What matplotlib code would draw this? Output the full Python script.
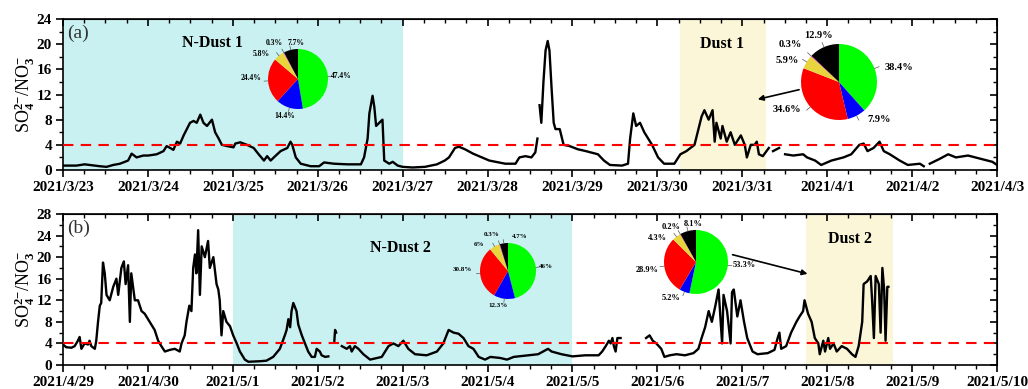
import numpy as np
import matplotlib
matplotlib.use("Agg")
import matplotlib.pyplot as plt
import matplotlib.dates as mdates
from matplotlib.ticker import MultipleLocator, FuncFormatter, NullFormatter
from datetime import datetime, timedelta

plt.rcParams['font.family'] = ['Liberation Serif', 'DejaVu Serif']
plt.rcParams['font.weight'] = 'bold'
plt.rcParams['mathtext.fontset'] = 'custom'
plt.rcParams['mathtext.rm'] = 'Liberation Serif:bold'
plt.rcParams['mathtext.it'] = 'Liberation Serif:bold'
plt.rcParams['mathtext.bf'] = 'Liberation Serif:bold'

# ---- data (hours from panel start, SO4/NO3 ratio; nan = gap) ----
start_a = datetime(2021, 3, 23)
start_b = datetime(2021, 4, 29)

hours_a = [0, 3.8, 6.1, 10.4, 12.3, 14.2, 16.1, 18.4, 19.4, 20.8,
           22.7, 24.1, 26.5, 28.4, 29.3, 30.3, 31.2, 32.2, 33.1, 34.1,
           35.0, 35.9, 36.9, 37.8, 38.8, 39.7, 40.7, 42.1, 43.0, 44.0,
           44.9, 46.4, 48.2, 48.7, 50.1, 52.0, 53.9, 55.3, 56.8, 57.7,
           58.7, 59.6, 61.5, 63.4, 64.3, 64.8, 65.8, 67.2, 70.0, 72.4,
           73.8, 76.6, 80.4, 84.2, 85.1, 86.1, 86.6, 87.5, 88.0, 88.5,
           89.4, 90.3, 90.8, 92.2, 93.2, 94.6, 96.0,
           98.8, 102.3, 105.7, 107.9, 109.1, 110.8, 111.9, 113.6, 115.9, 120.5,
           125.0, 127.9, 129.0, 130.7, 132.4, 133.5, 134.1, 134.4, 134.7, 135.2,
           135.8, 136.4, 137.0, 137.5, 138.1, 138.7, 139.2, 140.4, 141.5, 143.2,
           145.5, 147.8, 151.2, 152.9, 154.6, 158.0, 159.7, 160.3, 161.2, 162.0,
           163.1, 164.3, 165.4, 166.5, 168.2, 169.9, 172.8, 174.5, 176.2, 178.5,
           179.6, 180.5, 181.3, 182.5, 183.6, 184.2, 184.7, 185.9, 186.4, 187.6,
           188.7, 189.9, 191.6, 192.7, 193.3, 194.4, 195.5, 196.1, 196.7, 197.8,
           199.5, 200.1, 200.7, 202.4, 203.3, 204.1, 206.4, 209.2, 210.3, 212.6,
           214.3, 217.2, 220.6, 222.8, 225.1, 226.3, 227.4, 229.1, 230.8, 232.0,
           233.7, 236.5, 238.8, 242.2, 243.3, 244.1, 245.0, 247.9, 250.2, 252.4,
           255.8, 259.3, 262.7, 264.0]
ratio_a = [0.7, 0.7, 0.9, 0.6, 0.5, 0.8, 1.0, 1.5, 2.6, 2.0,
           2.3, 2.3, 2.5, 3.0, 3.8, 3.5, 3.2, 4.5, 4.2, 5.5,
           6.5, 7.5, 7.8, 7.5, 8.8, 7.5, 7.0, 8.0, 6.0, 5.0,
           4.0, 3.8, 3.6, 4.2, 4.4, 4.0, 3.5, 2.5, 1.5, 2.2,
           1.5, 2.0, 3.0, 3.5, 4.5, 4.0, 2.0, 1.0, 0.6, 0.6,
           1.2, 1.0, 0.9, 0.9, 2.0, 5.0, 9.0, 11.8, 10.0, 7.0,
           7.5, 8.0, 1.5, 1.0, 1.3, 0.7, 0.5,
           0.4, 0.5, 0.9, 1.5, 2.0, 3.5, 3.7, 3.3, 2.6, 1.5,
           1.0, 1.0, 2.0, 2.2, 2.0, 2.8, 5.0, np.nan, 10.3, 7.5,
           14.0, 19.0, 20.5, 19.0, 13.0, 7.5, 6.5, 6.5, 4.0, 3.8,
           3.3, 3.0, 2.5, 1.5, 0.8, 0.7, 1.0, 5.0, 9.0, 7.0,
           7.5, 6.0, 5.0, 4.0, 2.0, 1.0, 1.0, 2.5, 3.0, 4.0,
           6.5, 8.5, 9.5, 8.0, 9.5, 4.5, 7.5, 5.0, 7.0, 4.5,
           6.0, 4.0, 5.5, 4.0, 2.0, 4.0, 4.0, 4.5, 2.5, 2.2,
           3.5, np.nan, 3.0, 3.5, np.nan, 2.5, 2.3, 2.5, 2.0, 1.5,
           0.8, 1.5, 2.0, 2.5, 4.0, 4.2, 3.0, 3.5, 4.5, 3.0,
           2.5, 1.5, 0.8, 1.0, 0.6, np.nan, 1.0, 1.8, 2.5, 2.0,
           2.3, 1.8, 1.3, 0.8]

hours_b = [0, 0.9, 2.4, 3.3, 4.2, 4.7, 5.2, 6.1, 7.1, 7.5,
           8.0, 9.0, 9.4, 9.9, 10.4, 10.8, 11.3, 11.8, 12.3, 13.2,
           14.2, 15.1, 15.6, 16.5, 17.2, 17.7, 18.4, 18.9, 19.3, 20.3,
           21.2, 22.2, 23.1, 24.5, 25.9, 26.9, 27.8, 28.8, 30.2, 31.6,
           33.0, 33.5, 34.4, 34.9, 35.7, 36.3, 36.8, 37.3, 37.7, 38.2,
           38.7, 39.2, 40.1, 41.0, 41.5, 42.5, 43.4, 43.9, 44.3, 44.8,
           45.3, 46.2, 47.2, 48.1, 49.1, 50.0, 51.4, 52.4, 55.7, 57.5,
           59.4, 61.3, 62.7, 63.2, 63.7, 64.2, 64.6, 65.1, 66.0, 66.5,
           67.5, 68.4, 69.3, 70.3, 71.2, 71.7, 72.6, 73.1, 74.1, 75.0,
           76.0, 76.7, 76.9, 77.2, 78.0, 78.8, 80.2, 81.1, 81.6, 82.5,
           83.5, 84.9, 86.8, 88.7, 90.1, 92.0, 93.4, 94.8, 96.2, 97.6,
           99.5, 102.8, 105.7, 107.5, 109.0, 110.4, 111.8, 113.2, 114.6, 116.0,
           117.5, 119.3, 120.8, 123.6, 125.5, 127.4,
           131.4, 134.3, 137.1, 138.1, 140.9, 144.0, 147.6, 151.4, 152.4, 153.4,
           154.3, 154.8, 155.3, 155.7, 156.2, 156.7, 157.6, 160.0, 164.8, 165.8,
           166.7, 167.7, 169.1, 170.0, 171.5, 173.4, 175.8, 178.2, 179.6, 180.5,
           181.5, 182.5, 183.4, 184.4, 185.3, 186.3, 186.7, 187.7, 188.7, 189.1,
           189.6, 190.6, 191.5, 192.5, 193.4, 194.9, 196.3, 199.2, 201.1, 202.0,
           202.5, 203.0, 204.4, 205.8, 207.3, 208.2, 209.2, 209.6, 210.6, 211.6,
           212.5, 213.5, 213.9, 214.9, 215.4, 216.3, 216.8, 217.8, 218.7, 220.1,
           221.6, 223.0, 224.0, 224.9, 225.9, 226.3, 227.3, 228.3, 228.7, 229.2,
           229.7, 230.6, 231.1, 231.6, 232.1, 232.5, 233.0, 233.3]
ratio_b = [3.8, 3.3, 3.2, 3.5, 4.5, 5.2, 3.0, 4.0, 3.8, 4.5,
           3.5, 3.0, 4.5, 8.0, 11.0, 11.5, 19.0, 17.0, 13.0, 12.0,
           14.5, 16.0, 13.0, 18.0, 19.2, 15.0, 18.5, 8.0, 17.0, 12.0,
           12.0, 10.0, 9.5, 8.0, 6.5, 4.5, 3.5, 2.5, 2.8, 3.0,
           2.5, 4.0, 5.5, 8.0, 11.0, 10.0, 18.0, 20.5, 17.0, 25.0,
           13.0, 22.0, 20.0, 23.0, 18.0, 20.0, 15.0, 14.0, 12.0, 5.5,
           10.0, 8.0, 7.2, 5.5, 4.0, 2.5, 1.0, 0.6, 0.7, 0.8,
           1.5, 3.0, 5.5, 6.5, 8.5, 7.0, 10.0, 11.5, 10.0, 7.5,
           5.5, 4.0, 2.5, 1.5, 1.5, 3.0, 2.5, 1.8, 1.5, 1.6,
           np.nan, 4.5, 6.5, 6.0, np.nan, 3.5, 3.0, 3.5, 2.5, 3.5,
           3.0, 2.0, 1.0, 1.3, 1.5, 3.5, 4.0, 3.5, 4.5, 3.0,
           2.0, 1.8, 2.5, 4.0, 6.5, 6.0, 5.8, 5.0, 3.5, 3.0,
           1.5, 1.0, 1.5, 1.3, 1.0, 1.5,
           1.8, 2.0, 3.0, 2.5, 2.0, 1.6, 1.8, 1.8, 2.5, 3.5,
           4.5, 4.0, 5.0, 3.5, 2.5, 5.0, 5.0, np.nan, 5.0, 5.5,
           4.5, 4.0, 3.0, 1.5, 1.8, 2.0, 1.8, 2.2, 3.0, 5.0,
           7.0, 10.0, 8.0, 11.0, 14.0, 4.0, 13.0, 10.0, 4.0, 13.5,
           14.0, 9.0, 12.0, 8.0, 5.0, 2.5, 2.0, 2.2, 2.8, 5.0,
           6.0, 3.0, 3.5, 6.0, 8.0, 9.0, 10.0, 12.0, 9.5, 8.0,
           5.0, 4.0, 2.0, 4.5, 2.5, 5.0, 3.0, 4.0, 2.5, 3.5,
           3.0, 2.0, 1.5, 3.5, 8.0, 15.0, 15.5, 16.5, 12.0, 5.0,
           16.5, 15.0, 6.0, 18.0, 14.0, 4.5, 14.5, 14.5]

# periods (hours from panel start)
ndust1 = (0, 96)
dust1 = (174.3, 198.6)
ndust2 = (48, 144)
dust2 = (209.9, 234.5)

# pie shares, clockwise from top: green, blue, red, yellow, other, black
pie_colors = ['#00FF00', '#0000FF', '#FF0000', '#E8D43C', '#FF00FF', '#000000']
pie_ndust1 = [47.4, 14.4, 24.4, 5.8, 0.3, 7.7]
pie_dust1 = [38.4, 7.9, 34.6, 5.9, 0.3, 12.9]
pie_ndust2 = [46, 12.3, 30.8, 6, 0.3, 4.7]
pie_dust2 = [53.3, 5.2, 28.9, 4.3, 0.2, 8.1]

W, H = 1028, 389
fig = plt.figure(figsize=(W / 100, H / 100), dpi=100)


def to_dates(start, hours):
    return [start + timedelta(hours=h) for h in hours]


def date_fmt(x, pos):
    d = mdates.num2date(x)
    return "%d/%d/%d" % (d.year, d.month, d.day)


def setup_axis(ax, start, ymax):
    ax.set_xlim(start, start + timedelta(days=11))
    ax.set_ylim(0, ymax)
    ax.xaxis.set_major_locator(mdates.DayLocator())
    ax.xaxis.set_minor_locator(mdates.HourLocator(byhour=[6, 12, 18]))
    ax.xaxis.set_major_formatter(FuncFormatter(date_fmt))
    ax.yaxis.set_major_locator(MultipleLocator(4))
    ax.yaxis.set_minor_locator(MultipleLocator(2))
    ax.tick_params(which='major', direction='out', length=5, width=1.2, labelsize=11, pad=3)
    ax.tick_params(which='minor', direction='out', length=3, width=1.0)
    for s in ax.spines.values():
        s.set_linewidth(1.2)
    top = ax.secondary_xaxis('top')
    top.xaxis.set_major_locator(mdates.DayLocator())
    top.xaxis.set_minor_locator(mdates.HourLocator(byhour=[6, 12, 18]))
    top.xaxis.set_major_formatter(NullFormatter())
    top.tick_params(which='major', direction='in', length=5, width=1.2)
    top.tick_params(which='minor', direction='in', length=3, width=1.0)
    right = ax.secondary_yaxis('right')
    right.yaxis.set_major_locator(MultipleLocator(4))
    right.yaxis.set_minor_locator(MultipleLocator(2))
    right.yaxis.set_major_formatter(NullFormatter())
    right.tick_params(which='major', direction='in', length=5, width=1.2)
    right.tick_params(which='minor', direction='in', length=3, width=1.0)
    ax.set_ylabel(r'SO$_4^{2\mathbf{-}}$/NO$_3^{\mathbf{-}}$', fontsize=13, labelpad=0)


def draw_pie(cx, cy, r, shares, label_pos, fs):
    pax = fig.add_axes([(cx - r) / W, 1 - (cy + r) / H, 2 * r / W, 2 * r / H])
    wedges, _ = pax.pie(shares, colors=pie_colors, startangle=90, counterclock=False,
                        wedgeprops=dict(linewidth=0))
    pax.set_xlim(-1, 1)
    pax.set_ylim(-1, 1)
    pax.axis('off')
    for w, val, (lx, ly) in zip(wedges, shares, label_pos):
        ang = np.deg2rad((w.theta1 + w.theta2) / 2)
        ex, ey = np.cos(ang), np.sin(ang)
        pax.plot([ex, 1.13 * ex], [ey, 1.13 * ey], color='#555555', lw=0.5, clip_on=False)
        pax.text(lx, ly, "%g%%" % val, fontsize=fs, ha='center', va='center',
                 fontweight='bold', clip_on=False)


# ---- panel (a) ----
ax_a = fig.add_axes([63 / W, 1 - 170 / H, 934 / W, 151 / H])
setup_axis(ax_a, start_a, 24)
ax_a.axvspan(start_a + timedelta(hours=ndust1[0]), start_a + timedelta(hours=ndust1[1]),
             color='#C9F1F1', lw=0, zorder=0)
ax_a.axvspan(start_a + timedelta(hours=dust1[0]), start_a + timedelta(hours=dust1[1]),
             color='#FAF6D7', lw=0, zorder=0)
ax_a.plot(to_dates(start_a, hours_a), ratio_a, color='black', lw=1.7, zorder=3)
ax_a.axhline(4, color='red', ls=(0, (5, 3.5)), lw=1.5, zorder=4)
ax_a.text(0.004, 0.907, '(a)', transform=ax_a.transAxes, fontsize=14, fontweight='normal',
          ha='left', va='center', color='#333333')
ax_a.text(0.160, 0.841, 'N-Dust 1', transform=ax_a.transAxes, fontsize=11.5, ha='center', va='center')
ax_a.text(0.706, 0.834, 'Dust 1', transform=ax_a.transAxes, fontsize=11.5, ha='center', va='center')
ax_a.annotate('', xy=(0.741, 0.464), xytext=(0.791, 0.536), xycoords='axes fraction',
              arrowprops=dict(arrowstyle='-|>', color='black', lw=1.2, mutation_scale=8))

# ---- panel (b) ----
ax_b = fig.add_axes([63 / W, 1 - 365 / H, 934 / W, 151 / H])
setup_axis(ax_b, start_b, 28)
ax_b.axvspan(start_b + timedelta(hours=ndust2[0]), start_b + timedelta(hours=ndust2[1]),
             color='#C9F1F1', lw=0, zorder=0)
ax_b.axvspan(start_b + timedelta(hours=dust2[0]), start_b + timedelta(hours=dust2[1]),
             color='#FAF6D7', lw=0, zorder=0)
ax_b.plot(to_dates(start_b, hours_b), ratio_b, color='black', lw=1.7, zorder=3)
ax_b.axhline(4, color='red', ls=(0, (5, 3.5)), lw=1.5, zorder=4)
ax_b.text(0.004, 0.907, '(b)', transform=ax_b.transAxes, fontsize=14, fontweight='normal',
          ha='left', va='center', color='#333333')
ax_b.text(0.361, 0.775, 'N-Dust 2', transform=ax_b.transAxes, fontsize=11.5, ha='center', va='center')
ax_b.text(0.843, 0.834, 'Dust 2', transform=ax_b.transAxes, fontsize=11.5, ha='center', va='center')
ax_b.annotate('', xy=(0.800, 0.599), xytext=(0.714, 0.735), xycoords='axes fraction',
              arrowprops=dict(arrowstyle='-|>', color='black', lw=1.2, mutation_scale=8))

# ---- pies ----
draw_pie(298, 79, 30, pie_ndust1,
         [(1.44, 0.11), (-0.44, -1.24), (-1.55, 0.03), (-1.22, 0.83), (-0.8, 1.2), (-0.06, 1.2)], 5.5)
draw_pie(839, 82, 38, pie_dust1,
         [(1.57, 0.39), (1.06, -1.0), (-1.37, -0.72), (-1.37, 0.57), (-1.29, 0.98), (-0.55, 1.22)], 7.5)
draw_pie(508, 271, 28, pie_ndust2,
         [(1.36, 0.17), (-0.36, -1.24), (-1.63, 0.05), (-1.05, 0.93), (-0.6, 1.29), (0.42, 1.25)], 5)
draw_pie(696, 262, 32, pie_dust2,
         [(1.52, -0.1), (-0.78, -1.13), (-1.53, -0.26), (-1.22, 0.75), (-0.77, 1.1), (-0.08, 1.19)], 6)

fig.savefig('out.png', dpi=100)
